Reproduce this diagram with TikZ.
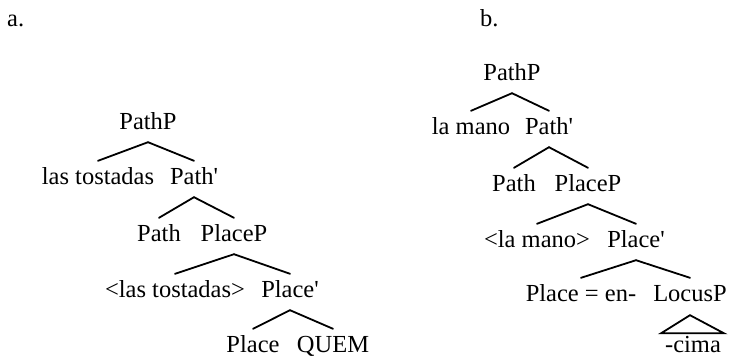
\documentclass[tikz,border=0pt]{standalone}
\usepackage{fontspec}
\setmainfont{Liberation Serif}
\usetikzlibrary{calc}
\tikzset{
  tn/.style={inner sep=0pt, anchor=base, text height=17pt, text depth=5pt,
             font=\fontsize{24.5pt}{28pt}\selectfont},
  lbl/.style={inner sep=0pt, anchor=base west, font=\fontsize{24.5pt}{28pt}\selectfont},
  br/.style={line width=1.8pt, line cap=round}
}
\newcommand{\branch}[2]{\draw[br] ([yshift=-8pt]#1.south) -- ([yshift=6pt]#2.north);}
\begin{document}
\begin{tikzpicture}[x=1pt,y=-1pt]
\useasboundingbox (0,0) rectangle (730,356);
\node[lbl] (la) at (7,27) {a.};
\node[lbl] (lb) at (480,27) {b.};
% tree a
\node[tn] (aPathP) at (148,129) {PathP};
\node[tn] (aSpec) at (98,184) {las tostadas};
\node[tn] (aPathbar) at (194,184) {Path\textquotesingle};
\node[tn] (aPath) at (159,241) {Path};
\node[tn] (aPlaceP) at (234,241) {PlaceP};
\node[tn] (aTrace) at (175,297) {<las tostadas>};
\node[tn] (aPlacebar) at (290,297) {Place\textquotesingle};
\node[tn] (aPlace) at (253,352) {Place};
\node[tn] (aQuem) at (333,352) {QUEM};
\branch{aPathP}{aSpec}
\branch{aPathP}{aPathbar}
\branch{aPathbar}{aPath}
\branch{aPathbar}{aPlaceP}
\branch{aPlaceP}{aTrace}
\branch{aPlaceP}{aPlacebar}
\branch{aPlacebar}{aPlace}
\branch{aPlacebar}{aQuem}
% tree b
\node[tn] (bPathP) at (512,80) {PathP};
\node[tn] (bSpec) at (471,134) {la mano};
\node[tn] (bPathbar) at (549,134) {Path\textquotesingle};
\node[tn] (bPath) at (514,191) {Path};
\node[tn] (bPlaceP) at (588,191) {PlaceP};
\node[tn] (bTrace) at (537,247) {<la mano>};
\node[tn] (bPlacebar) at (636,247) {Place\textquotesingle};
\node[tn] (bPlace) at (581,301) {Place = en-};
\node[tn] (bLocusP) at (690,301) {LocusP};
\node[tn, text depth=0pt] (bCima) at (693,352.5) {-cima};
\branch{bPathP}{bSpec}
\branch{bPathP}{bPathbar}
\branch{bPathbar}{bPath}
\branch{bPathbar}{bPlaceP}
\branch{bPlaceP}{bTrace}
\branch{bPlaceP}{bPlacebar}
\branch{bPlacebar}{bPlace}
\branch{bPlacebar}{bLocusP}
\draw[br, line join=miter] ([yshift=-9pt]bLocusP.south) -- ([xshift=-32pt,yshift=2pt]bCima.north)
  -- ([xshift=31pt,yshift=2pt]bCima.north) -- cycle;
\end{tikzpicture}
\end{document}
